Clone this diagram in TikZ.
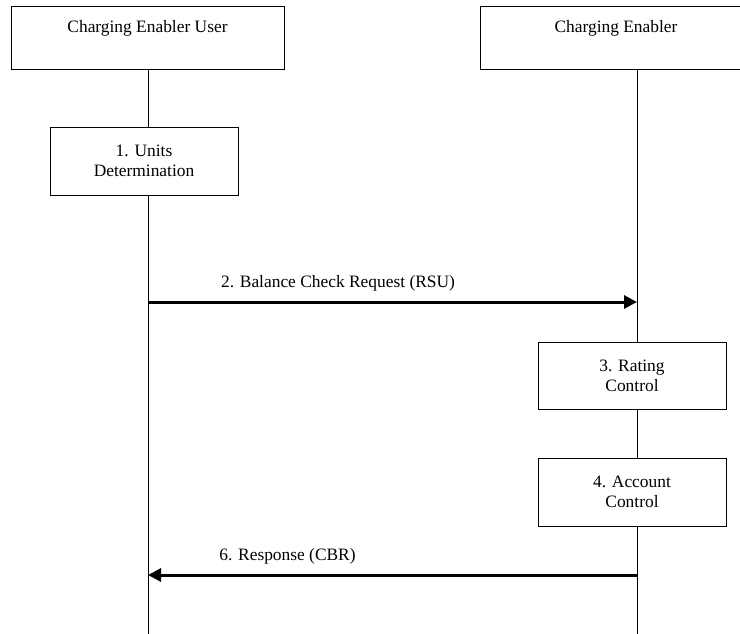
\documentclass[tikz,border=0pt]{standalone}
\usepackage{fontspec}
\setmainfont{Liberation Serif}
\usetikzlibrary{arrows.meta}
\begin{document}
\begin{tikzpicture}[x=1pt,y=-1pt,
  font=\fontsize{17.4}{20}\selectfont,
  hdrbox/.style={draw, line width=1pt, minimum width=273pt, minimum height=63pt, inner sep=0pt, fill=white},
  procbox/.style={draw, line width=1pt, minimum width=188pt, minimum height=68pt, inner sep=0pt, fill=white, align=center},
  lifeline/.style={line width=1pt},
  msg/.style={line width=3pt, -{Triangle[length=13pt,width=13pt]}},
  lbl/.style={inner sep=0pt}]
\useasboundingbox (0,0) rectangle (740,633);
\clip (0,0) rectangle (740,633);
% lifeline anchor points
\coordinate (l1top) at (148,69);
\coordinate (l1bot) at (148,634);
\coordinate (l2top) at (637,69);
\coordinate (l2bot) at (637,634);
\draw[lifeline] (l1top) -- (l1bot);
\draw[lifeline] (l2top) -- (l2bot);
% header boxes
\node[hdrbox] (ceu) at (147.5,37.5) {};
\node[lbl] (ceut) at (147.5,28) {Charging Enabler User};
\node[hdrbox, minimum width=272pt] (ce) at (616,37.5) {};
\node[lbl] (cet) at (616,28) {Charging Enabler};
% process boxes
\node[procbox] (units) at (144,161) {1. Units\\Determination};
\node[procbox, minimum height=67pt] (rating) at (632,375.5) {3. Rating\\Control};
\node[procbox] (account) at (632,492) {4. Account\\Control};
% messages
\coordinate (m2s) at (148,302);
\coordinate (m2e) at (637,302);
\draw[msg] (m2s) -- (m2e);
\node[lbl] (m2l) at (338,283) {2. Balance Check Request (RSU)};
\coordinate (m6s) at (637,575);
\coordinate (m6e) at (148,575);
\draw[msg] (m6s) -- (m6e);
\node[lbl] (m6l) at (287.5,556) {6. Response (CBR)};
\end{tikzpicture}
\end{document}
